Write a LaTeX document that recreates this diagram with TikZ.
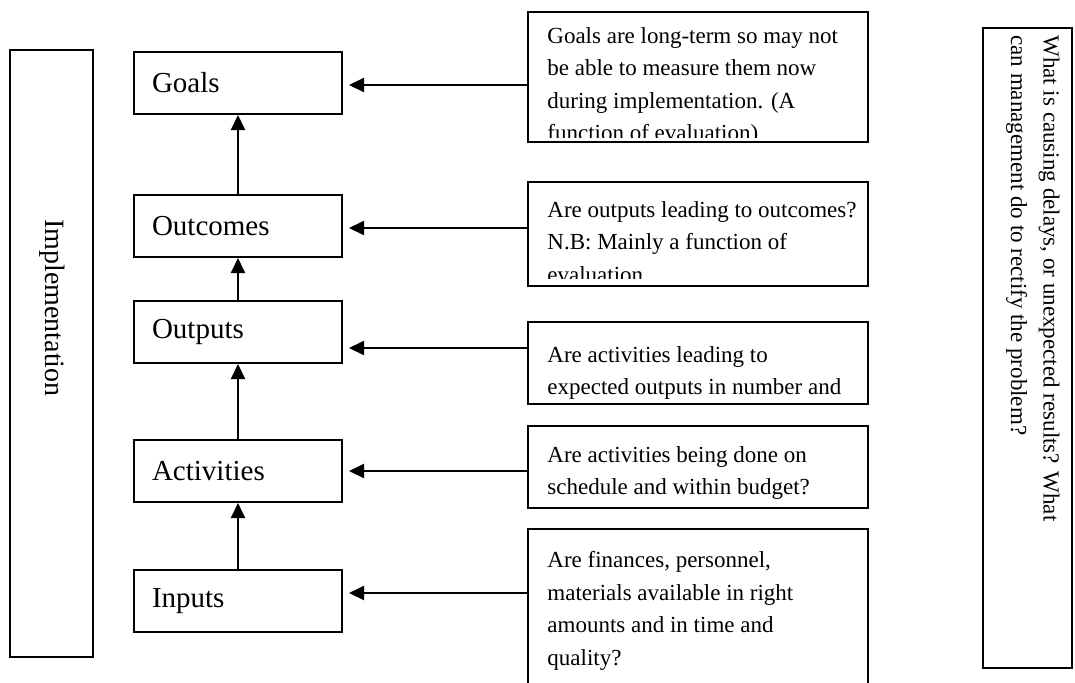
\documentclass[tikz,border=0pt]{standalone}
\usepackage{fontspec}
\setmainfont{Liberation Serif}
\usetikzlibrary{arrows.meta}
\def\qfont{\fontsize{11.5pt}{16.25pt}\selectfont}

\begin{document}
\begin{tikzpicture}[x=0.5pt,y=-0.5pt,
    stage/.style={draw,line width=1pt,minimum width=104pt,minimum height=31pt,
      text width=86pt,inner xsep=9pt,align=left,font=\fontsize{14.5pt}{17pt}\selectfont},
    query/.style={draw,line width=1pt,minimum width=170pt,inner sep=0pt},
    qtext/.style={anchor=north west,inner sep=0pt,align=left,font=\qfont},
    stageflow/.style={line width=1pt,-{Triangle[length=7.5pt,width=7pt]}},
    checkflow/.style={line width=1pt,-{Triangle[length=7.5pt,width=7pt]}}]
    \useasboundingbox (0,0) rectangle (1075,682);
    \clip (0,0) rectangle (1075,682);
    % left band
    \node[draw,line width=1pt,minimum width=41.5pt,minimum height=303.5pt] (impl) at (51.5,353.5) {};
    \node[rotate=-90,inner sep=0pt,font=\fontsize{14pt}{17pt}\selectfont] (impltext) at (52,308) {Implementation};
    % chain of results
    \node[stage] (goals) at (238,83) {Goals};
    \node[stage] (outcomes) at (238,226) {Outcomes};
    \node[stage] (outputs) at (238,332) {Outputs};
    \node[stage] (activities) at (238,471) {Activities};
    \node[stage] (inputs) at (238,601) {Inputs};
    \draw[stageflow] (inputs.north) -- (activities.south);
    \draw[stageflow] (activities.north) -- (outputs.south);
    \draw[stageflow] (outputs.north) -- (outcomes.south);
    \draw[stageflow] (outcomes.north) -- (goals.south);
    % questions
    \node[query,minimum height=65pt] (qgoals) at (698,77) {};
    \node[query,minimum height=52pt] (qoutcomes) at (698,234) {};
    \node[query,minimum height=41pt] (qoutputs) at (698,363) {};
    \node[query,minimum height=41pt] (qactivities) at (698,467) {};
    \node[query,minimum height=96pt] (qinputs) at (698,625) {};
    \begin{scope}
      \clip (qgoals.north west) rectangle ([yshift=3pt]qgoals.south east);
      \node[qtext] (tgoals) at (547,27) {Goals are long-term so may not\\be able to measure them now\\during implementation. (A\\function of evaluation)};
    \end{scope}
    \begin{scope}
      \clip (qoutcomes.north west) rectangle ([yshift=4.5pt]qoutcomes.south east);
      \node[qtext] (toutcomes) at (547,201) {Are outputs leading to outcomes?\\N.B: Mainly a function of\\evaluation};
    \end{scope}
    \node[qtext] (toutputs) at (547,346) {Are activities leading to\\expected outputs in number and};
    \node[qtext] (tactivities) at (547,446) {Are activities being done on\\schedule and within budget?};
    \node[qtext] (tinputs) at (547,551) {Are finances, personnel,\\materials available in right\\amounts and in time and\\quality?};
    \coordinate (igoals) at (349,85);
    \coordinate (ioutcomes) at (349,228);
    \coordinate (ioutputs) at (349,348);
    \coordinate (iactivities) at (349,471);
    \coordinate (iinputs) at (349,593);
    \draw[checkflow] (qgoals.west |- igoals) -- (igoals);
    \draw[checkflow] (qoutcomes.west |- ioutcomes) -- (ioutcomes);
    \draw[checkflow] (qoutputs.west |- ioutputs) -- (ioutputs);
    \draw[checkflow] (qactivities.west |- iactivities) -- (iactivities);
    \draw[checkflow] (qinputs.west |- iinputs) -- (iinputs);
    % management box
    \node[draw,line width=1pt,minimum width=44.5pt,minimum height=320pt] (mgmt) at (1027.5,348) {};
    \node[rotate=-90,anchor=north west,inner sep=0pt,align=left,font=\qfont] (mgmttext) at (1060,35)
      {What is causing delays, or unexpected results? What\\can management do to rectify the problem?};
\end{tikzpicture}
\end{document}
